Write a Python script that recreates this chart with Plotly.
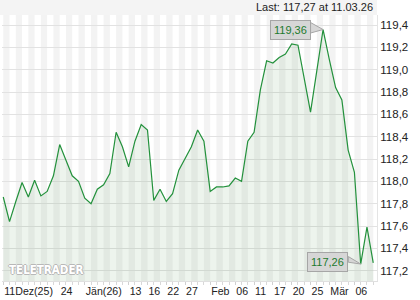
import plotly.graph_objects as go

# ---- data ----
values = [117.86, 117.64, 117.82, 117.99, 117.86, 118.01, 117.87, 117.91, 118.05, 118.33,
          118.19, 118.05, 118.00, 117.85, 117.80, 117.93, 117.97, 118.07, 118.44, 118.31,
          118.13, 118.36, 118.51, 118.46, 117.83, 117.93, 117.82, 117.89, 118.10, 118.21,
          118.31, 118.46, 118.36, 117.91, 117.95, 117.95, 117.96, 118.03, 118.00, 118.36,
          118.44, 118.82, 119.08, 119.06, 119.11, 119.14, 119.23, 119.22, 118.93, 118.62,
          118.99, 119.36, 119.09, 118.84, 118.73, 118.28, 118.08, 117.26, 117.59, 117.27]
tick_idx = [0, 9, 13, 20, 23, 26, 29, 33, 37, 40, 43, 46, 49, 52, 56]
tick_text = ["11Dez(25)", "24", "Jän(26)", "13", "16", "22", "27",
             "Feb", "06", "11", "17", "20", "25", "Mär", "06"]
y_ticks = [117.2, 117.4, 117.6, 117.8, 118.0, 118.2, 118.4, 118.6, 118.8, 119.0, 119.2, 119.4]
last_text = "Last: 117,27 at 11.03.26"

x = list(range(len(values)))
n = len(values)

FONT = "Liberation Sans"
LINE = "#23913c"
TXT_GREEN = "#1d7a2e"
BOX_FILL = "#d6d6d6"
BOX_LINE = "#a6a6a6"

fig = go.Figure()
fig.add_trace(go.Scatter(
    x=x, y=values, mode="lines",
    line=dict(color=LINE, width=1.2),
    fill="tozeroy", fillcolor="rgba(45,125,45,0.085)",
    hoverinfo="skip", showlegend=False,
))

shapes = []
for i in range(0, n - 1, 2):
    shapes.append(dict(type="rect", xref="x", yref="paper", x0=i, x1=i + 1, y0=0, y1=1,
                       fillcolor="#f3f3f3", line=dict(width=0), layer="below"))
shapes.append(dict(type="rect", xref="paper", yref="paper", x0=-0.01, x1=1, y0=1, y1=1.06,
                   fillcolor="#f4f4f4", line=dict(width=0), layer="below"))

px_x = 1 / 6.271
px_y = 1 / 111.67

imax = values.index(max(values))
imin = values.index(min(values))

def tail(i, v, dx, top, bot):
    xb = i - dx * px_x
    return dict(type="path", xref="x", yref="y",
                path=f"M {xb},{v + top * px_y} L {i},{v} L {xb},{v - bot * px_y} Z",
                fillcolor=BOX_FILL, line=dict(color=BOX_LINE, width=1), layer="above")

shapes.append(tail(imax, values[imax], 12.5, 7, 3.5))
shapes.append(tail(imin, values[imin], 12.4, 7.5, -1.8))

def fmt(v):
    return f"{v:.2f}".replace(".", ",")

annotations = [
    dict(xref="x", yref="y", x=imax, y=values[imax], text=fmt(values[imax]), showarrow=False,
         xanchor="right", yanchor="middle", xshift=-12.5, yshift=-0.5,
         bgcolor=BOX_FILL, bordercolor=BOX_LINE, borderwidth=1, borderpad=3,
         font=dict(family=FONT, size=11, color=TXT_GREEN)),
    dict(xref="x", yref="y", x=imin, y=values[imin], text=fmt(values[imin]), showarrow=False,
         xanchor="right", yanchor="middle", xshift=-12.4, yshift=2.2,
         bgcolor=BOX_FILL, bordercolor=BOX_LINE, borderwidth=1, borderpad=3,
         font=dict(family=FONT, size=11, color=TXT_GREEN)),
    dict(xref="paper", yref="paper", x=1, y=1.0, yshift=8, text=last_text, showarrow=False,
         xanchor="right", yanchor="middle", xshift=-2,
         font=dict(family=FONT, size=11, color="#222222")),
    dict(xref="paper", yref="paper", x=0.013, y=0.042, text="<b>TELETRADER</b>", showarrow=False,
         xanchor="left", yanchor="middle",
         font=dict(family="DejaVu Sans Condensed", size=11.5, color="#ffffff",
                   shadow="-1px 0 0 #b8b8b8, 1px 0 0 #b8b8b8, 0 -1px 0 #b8b8b8, 0 1px 0 #b8b8b8")),
]

fig.update_layout(
    width=420, height=300,
    margin=dict(l=2, r=43, t=15, b=19),
    paper_bgcolor="#ffffff", plot_bgcolor="#ffffff",
    separators=",.",
    shapes=shapes, annotations=annotations,
    font=dict(family=FONT, size=11, color="#222222"),
    xaxis=dict(range=[-0.2, 59.6], showgrid=False, zeroline=False,
               tickmode="array", tickvals=tick_idx, ticktext=tick_text,
               ticklabelposition="outside right", tickangle=0,
               ticks="outside", ticklen=3, tickcolor="#d0d0d0",
               minor=dict(tickmode="array", tickvals=x, ticks="outside", ticklen=3, tickcolor="#d8d8d8"),
               showline=True, linecolor="#e0e0e0", linewidth=1,
               tickfont=dict(family=FONT, size=10.6, color="#222222"),
               fixedrange=True),
    yaxis=dict(range=[117.108, 119.49], side="right", tickmode="array", tickvals=y_ticks,
               tickformat=".1f", showgrid=True, gridcolor="#e2e2e2", gridwidth=1,
               zeroline=False, ticks="", showline=True, linecolor="#e4e4e4",
               tickfont=dict(family=FONT, size=11.5, color="#222222"),
               fixedrange=True),
)

fig.write_html("out.html")
